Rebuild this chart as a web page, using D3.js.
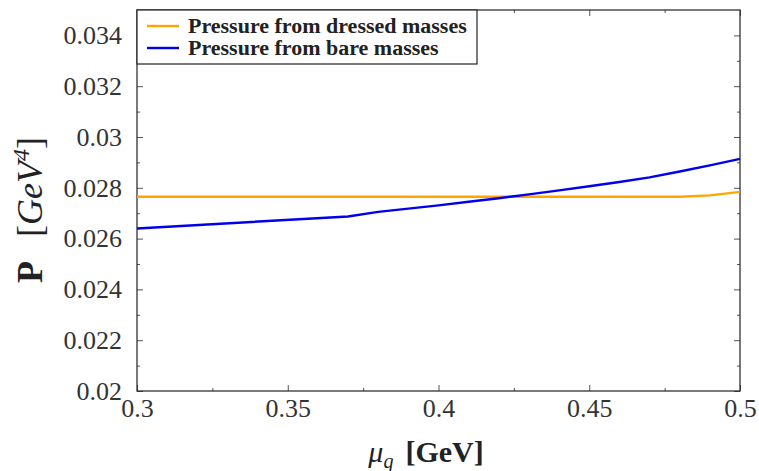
<!DOCTYPE html>
<html>
<head>
<meta charset="utf-8">
<script src="https://cdn.jsdelivr.net/npm/d3@7"></script>
<style>
body { margin: 0; background: #fff; }
</style>
</head>
<body>
<div class="chart"></div>
<script>
// pressure vs quark chemical potential
const margin = {top: 10, right: 19, bottom: 80, left: 137};
const width = 759 - margin.left - margin.right;
const height = 471 - margin.top - margin.bottom;
const serif = '"Liberation Serif", "DejaVu Serif", serif';

// mu_q [GeV]
const muDressed = [0.30, 0.48, 0.49, 0.50];
const pDressed = [0.02765, 0.02765, 0.02770, 0.02784];
const muBare = [0.30, 0.37, 0.38, 0.39, 0.40, 0.41, 0.42, 0.43, 0.44, 0.45, 0.46, 0.47, 0.48, 0.49, 0.50];
const pBare = [0.02640, 0.02687, 0.02705, 0.02718, 0.02731, 0.02745, 0.02759, 0.02774, 0.02790, 0.02806, 0.02823, 0.02841, 0.02864, 0.02888, 0.02914];

const xTicks = [0.3, 0.35, 0.4, 0.45, 0.5];
const xMinor = [0.325, 0.375, 0.425, 0.475];
const yTicks = [0.02, 0.022, 0.024, 0.026, 0.028, 0.03, 0.032, 0.034];
const yMinor = [0.021, 0.023, 0.025, 0.027, 0.029, 0.031, 0.033];
const yLabels = ['0.02', '0.022', '0.024', '0.026', '0.028', '0.03', '0.032', '0.034'];
const xLabels = ['0.3', '0.35', '0.4', '0.45', '0.5'];

const seriesNames = ['Pressure from dressed masses', 'Pressure from bare masses'];
const seriesColors = ['#ffa500', '#0000ee'];

const svg = d3.select('.chart')
  .append('svg')
    .attr('width', width + margin.left + margin.right)
    .attr('height', height + margin.top + margin.bottom)
  .append('g')
    .attr('transform', `translate(${margin.left}, ${margin.top})`);

const xScale = d3.scaleLinear().domain([0.3, 0.5]).range([0, width]);
const yScale = d3.scaleLinear().domain([0.02, 0.035]).range([height, 0]);

// inward ticks on all four sides
function ticks(axis, vals, size, tr) {
  svg.append('g')
    .attr('transform', tr)
    .call(axis.tickValues(vals).tickSize(size).tickFormat(''))
    .call(g => g.select('.domain').remove())
    .selectAll('line').attr('stroke', '#555');
}
ticks(d3.axisTop(xScale), xTicks, 6, `translate(0,${height})`);
ticks(d3.axisTop(xScale), xMinor, 3, `translate(0,${height})`);
ticks(d3.axisBottom(xScale), xTicks, 6, 'translate(0,0)');
ticks(d3.axisBottom(xScale), xMinor, 3, 'translate(0,0)');
ticks(d3.axisRight(yScale), yTicks, 6, 'translate(0,0)');
ticks(d3.axisRight(yScale), yMinor, 3, 'translate(0,0)');
ticks(d3.axisLeft(yScale), yTicks, 6, `translate(${width},0)`);
ticks(d3.axisLeft(yScale), yMinor, 3, `translate(${width},0)`);

// tick labels
const xAxis = svg.append('g')
  .attr('transform', `translate(0,${height})`)
  .call(d3.axisBottom(xScale).tickValues(xTicks).tickSize(0).tickFormat((d, i) => xLabels[i]));
xAxis.select('.domain').remove();
xAxis.selectAll('text')
  .style('font-family', serif)
  .style('font-size', '26px')
  .attr('fill', '#333')
  .attr('y', 8);

const yAxis = svg.append('g')
  .call(d3.axisLeft(yScale).tickValues(yTicks).tickSize(0).tickFormat((d, i) => yLabels[i]));
yAxis.select('.domain').remove();
yAxis.selectAll('text')
  .style('font-family', serif)
  .style('font-size', '26px')
  .attr('fill', '#333')
  .attr('x', -15);

// frame
svg.append('rect')
  .attr('width', width).attr('height', height)
  .attr('fill', 'none').attr('stroke', '#222').attr('stroke-width', 1.2);

const line = d3.line()
  .x(d => xScale(d[0]))
  .y(d => yScale(d[1]));

const series = [
  d3.zip(muDressed, pDressed),
  d3.zip(muBare, pBare)
];

svg.selectAll('.series')
  .data(series)
  .enter()
  .append('path')
    .attr('class', 'series')
    .attr('d', line)
    .attr('fill', 'none')
    .attr('stroke', (d, i) => seriesColors[i])
    .attr('stroke-width', 2.4);

// legend
const legend = svg.append('g');
legend.append('rect')
  .attr('x', 0).attr('y', 0).attr('width', 340).attr('height', 54)
  .attr('fill', '#fff').attr('stroke', '#222').attr('stroke-width', 1.2);
seriesNames.forEach((name, i) => {
  const yy = 16 + i * 22;
  legend.append('line')
    .attr('x1', 10).attr('x2', 42).attr('y1', yy).attr('y2', yy)
    .attr('stroke', seriesColors[i]).attr('stroke-width', 2.4);
  legend.append('text')
    .attr('transform', `translate(51,${yy + 7}) scale(1.1,1)`)
    .attr('font-family', serif)
    .attr('font-weight', 'bold')
    .attr('font-size', 20)
    .attr('fill', '#222')
    .text(name);
});

// axis titles
const yTitle = svg.append('text')
  .attr('transform', `translate(-95,${200}) rotate(-90)`)
  .attr('text-anchor', 'middle')
  .attr('font-family', serif)
  .attr('font-size', 36)
  .attr('fill', '#222');
yTitle.append('tspan').attr('font-weight', 'bold').text('P');
yTitle.append('tspan').attr('dx', 24).text('[');
yTitle.append('tspan').attr('font-style', 'italic').text('GeV');
yTitle.append('tspan').attr('font-style', 'italic').attr('font-size', 24).attr('dy', -13).text('4');
yTitle.append('tspan').attr('dy', 13).text(']');

const xTitle = svg.append('text')
  .attr('transform', `translate(${289},${height + 71})`)
  .attr('text-anchor', 'middle')
  .attr('font-family', serif)
  .attr('font-size', 30)
  .attr('fill', '#222');
xTitle.append('tspan').attr('font-style', 'italic').text('μ');
xTitle.append('tspan').attr('font-style', 'italic').attr('font-size', 20).attr('dy', 6).text('q');
xTitle.append('tspan').attr('dy', -6).attr('dx', 12).attr('font-weight', 'bold').text('[GeV]');
</script>
</body>
</html>
